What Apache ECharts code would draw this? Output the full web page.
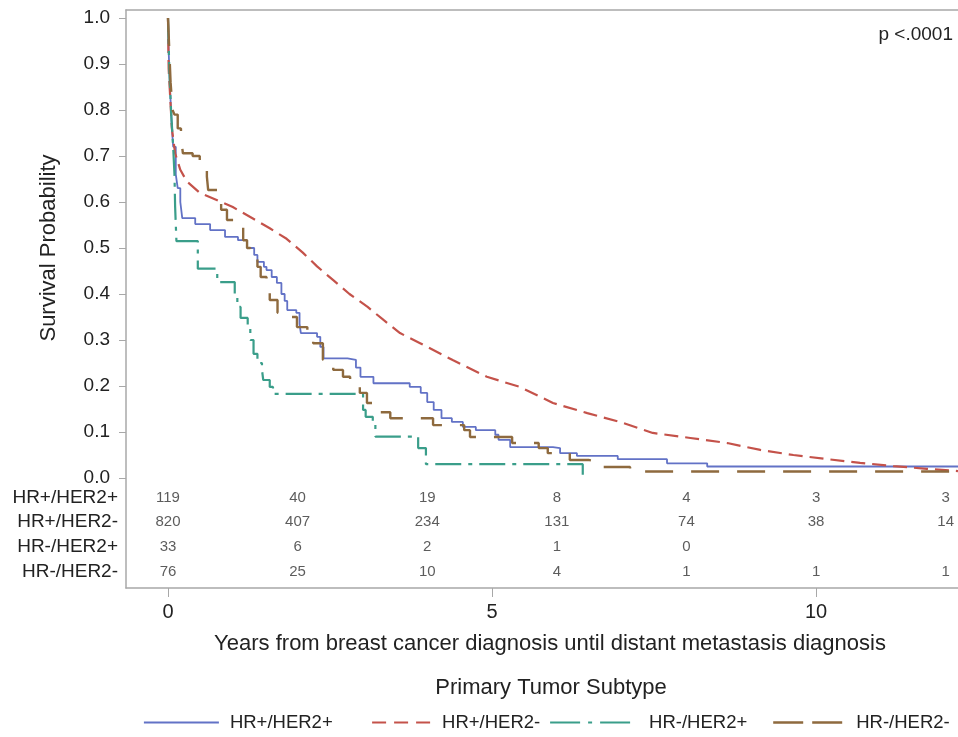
<!DOCTYPE html>
<html lang="en">
<head>
<meta charset="UTF-8">
<title>Survival by primary tumor subtype</title>
<script src="https://cdn.jsdelivr.net/npm/echarts@6/dist/echarts.min.js"></script>
<style>
html, body { margin: 0; padding: 0; background: #fff; }
#chart { width: 958px; height: 737px; }
</style>
</head>
<body>
<div id="chart"></div>
<script>
// subtypes, in legend / at-risk table order
var subtypes = ['HR+/HER2+', 'HR+/HER2-', 'HR-/HER2+', 'HR-/HER2-'];

// KM curves: [years, survival]
var survHRpHER2p = [[0,1.0],[0.01,0.93],[0.03,0.85],[0.06,0.76],[0.08,0.72],[0.12,0.66],[0.15,0.63],[0.19,0.60],[0.22,0.565],
  [0.42,0.552],[0.65,0.539],[0.88,0.524],[1.08,0.517],[1.22,0.50],[1.33,0.485],[1.38,0.47],[1.48,0.459],[1.52,0.452],
  [1.6,0.437],[1.68,0.424],[1.75,0.40],[1.8,0.385],[1.84,0.365],[1.98,0.359],[2.03,0.335],[2.05,0.315],[2.3,0.307],
  [2.35,0.285],[2.4,0.26],[2.77,0.257],[2.9,0.24],[2.97,0.22],[3.17,0.206],[3.73,0.198],[3.9,0.185],[4.0,0.165],
  [4.1,0.148],[4.22,0.13],[4.38,0.122],[4.55,0.111],[4.75,0.104],[5.05,0.094],[5.1,0.083],[5.28,0.067],[5.94,0.065],
  [6.05,0.054],[6.31,0.048],[6.94,0.041],[7.7,0.032],[8.32,0.025],[12.19,0.025]];
var survHRpHER2n = [[0,1.0],[0.01,0.89],[0.06,0.76],[0.11,0.706],[0.19,0.67],[0.29,0.645],[0.49,0.62],[0.76,0.604],
  [1.0,0.589],[1.31,0.564],[1.57,0.543],[1.83,0.52],[2.08,0.49],[2.3,0.46],[2.55,0.43],[2.8,0.40],[3.08,0.372],
  [3.33,0.343],[3.58,0.315],[3.89,0.293],[4.4,0.256],[4.92,0.22],[5.43,0.198],[5.94,0.163],[6.47,0.141],[6.97,0.122],
  [7.48,0.098],[8.06,0.087],[8.63,0.076],[9.14,0.061],[9.65,0.05],[10.17,0.041],[10.68,0.033],[11.19,0.026],
  [11.71,0.02],[12.19,0.015]];
var survHRnHER2p = [[0,1.0],[0.02,0.89],[0.05,0.79],[0.08,0.72],[0.1,0.66],[0.11,0.59],[0.13,0.515],[0.46,0.455],
  [0.76,0.426],[1.03,0.40],[1.07,0.372],[1.12,0.348],[1.23,0.328],[1.27,0.30],[1.32,0.27],[1.38,0.25],[1.45,0.235],
  [1.47,0.213],[1.57,0.198],[1.62,0.183],[3.01,0.148],[3.05,0.133],[3.16,0.12],[3.2,0.09],[3.86,0.065],[3.98,0.03],
  [6.4,0.0]];
var survHRnHER2n = [[0,1.0],[0.02,0.93],[0.04,0.86],[0.07,0.80],[0.1,0.79],[0.15,0.76],[0.2,0.74],[0.23,0.706],
  [0.38,0.70],[0.49,0.685],[0.6,0.655],[0.62,0.626],[0.76,0.611],[0.82,0.583],[0.91,0.561],[1.07,0.546],[1.16,0.517],
  [1.22,0.50],[1.27,0.48],[1.38,0.459],[1.43,0.437],[1.52,0.424],[1.57,0.387],[1.69,0.359],[1.88,0.35],[1.99,0.328],
  [2.15,0.315],[2.24,0.293],[2.39,0.257],[2.55,0.235],[2.7,0.22],[2.81,0.198],[2.96,0.185],[3.07,0.163],[3.16,0.143],
  [3.43,0.13],[4.09,0.115],[4.57,0.104],[4.66,0.089],[5.31,0.076],[5.72,0.065],[5.86,0.054],[6.2,0.039],[6.5,0.035],
  [6.64,0.024],[7.13,0.014],[12.19,0.014]];

// number at risk
var riskTimes = [0, 2, 4, 6, 8, 10, 12];
var riskHRpHER2p = [119, 40, 19, 8, 4, 3, 3];
var riskHRpHER2n = [820, 407, 234, 131, 74, 38, 14];
var riskHRnHER2p = [33, 6, 2, 1, 0];
var riskHRnHER2n = [76, 25, 10, 4, 1, 1, 1];

var xTicks = [0, 5, 10];
var yTicks = [0, 0.1, 0.2, 0.3, 0.4, 0.5, 0.6, 0.7, 0.8, 0.9, 1.0];

var X_MIN = -0.648, X_MAX = 12.19;
var FONT = 'Liberation Sans, Arial, sans-serif';
var AXIS_GREY = '#a8a8a8';

// line look per subtype (colour, dash, legend icon)
var looks = [
  { color: '#6272c6', width: 1.8, type: 'solid', step: 'end', legLeft: 138, legW: 75, legGap: 6, legType: 'solid' },
  { color: '#c4524a', width: 2.2, type: [14, 7], step: false, legLeft: 366, legW: 58, legGap: 7, legType: [14, 8] },
  { color: '#3a9e8a', width: 2.2, type: [26, 7, 4, 7], step: 'end', legLeft: 544, legW: 83, legGap: 11, legType: [30, 8, 4, 8] },
  { color: '#8e6a3e', width: 2.4, type: [28, 18], step: 'end', legLeft: 767, legW: 69, legGap: 9, legType: [30, 9] }
];

var curves = [survHRpHER2p, survHRpHER2n, survHRnHER2p, survHRnHER2n];
var riskRows = [riskHRpHER2p, riskHRpHER2n, riskHRnHER2p, riskHRnHER2n];

var series = subtypes.map(function (name, i) {
  var lk = looks[i];
  return {
    name: name,
    type: 'line',
    xAxisIndex: 0,
    yAxisIndex: 0,
    step: lk.step,
    symbol: 'none',
    showSymbol: false,
    data: curves[i],
    lineStyle: { color: lk.color, width: lk.width, type: lk.type },
    itemStyle: { color: lk.color },
    z: 3
  };
});

// at-risk table as labelled points in its own grid
var riskData = [];
riskRows.forEach(function (row, i) {
  row.forEach(function (n, j) {
    riskData.push([riskTimes[j], subtypes[i], n]);
  });
});
series.push({
  name: 'atrisk',
  type: 'scatter',
  xAxisIndex: 3,
  yAxisIndex: 2,
  symbolSize: 1,
  itemStyle: { color: 'rgba(0,0,0,0)' },
  label: {
    show: true,
    position: 'inside',
    formatter: function (p) { return p.value[2]; },
    fontFamily: FONT,
    fontSize: 15,
    color: '#333'
  },
  data: riskData
});

// one legend per subtype so each icon can have its own length
var legends = subtypes.map(function (name, i) {
  var lk = looks[i];
  return {
    data: [name],
    left: lk.legLeft,
    top: 708,
    itemWidth: lk.legW,
    itemHeight: 14,
    selectedMode: false,
    itemStyle: { color: 'rgba(0,0,0,0)', borderWidth: 0, opacity: 0 },
    lineStyle: { color: lk.color, width: lk.width, type: lk.legType },
    textStyle: { fontFamily: FONT, fontSize: 18.5, color: '#222', padding: [0, 0, 0, lk.legGap] }
  };
});

var myChart = echarts.init(document.getElementById('chart'));
var option = {
  animation: false,
  backgroundColor: '#fff',
  textStyle: { fontFamily: FONT },
  title: [
    { text: 'p <.0001', right: 0, top: 20, textStyle: { fontFamily: FONT, fontSize: 19, fontWeight: 'normal', color: '#222' } },
    { text: 'Primary Tumor Subtype', left: 546, textAlign: 'center', top: 672,
      textStyle: { fontFamily: FONT, fontSize: 22, fontWeight: 'normal', color: '#222' } }
  ],
  legend: legends,
  grid: [
    { left: 126, right: 0, top: 18, height: 460 },
    { left: 126, right: 0, top: 10, height: 578 },
    { left: 126, right: 0, top: 485, height: 99 }
  ],
  xAxis: [
    { gridIndex: 0, type: 'value', min: X_MIN, max: X_MAX, show: false },
    {
      gridIndex: 1, type: 'value', min: X_MIN, max: X_MAX, position: 'bottom',
      axisLine: { show: true, onZero: false, lineStyle: { color: AXIS_GREY, width: 1.5 } },
      axisTick: { show: true, length: 9, customValues: xTicks, lineStyle: { color: AXIS_GREY } },
      axisLabel: { customValues: xTicks, fontSize: 20, color: '#222', margin: 14 },
      splitLine: { show: false },
      name: 'Years from breast cancer diagnosis until distant metastasis diagnosis',
      nameLocation: 'middle',
      nameGap: 45,
      nameTextStyle: { fontSize: 22, color: '#222', padding: [0, 0, 0, 16] }
    },
    {
      gridIndex: 1, type: 'value', min: X_MIN, max: X_MAX, position: 'top',
      axisLine: { show: true, onZero: false, lineStyle: { color: AXIS_GREY, width: 1.5 } },
      axisTick: { show: false }, axisLabel: { show: false }, splitLine: { show: false }
    },
    { gridIndex: 2, type: 'value', min: X_MIN, max: X_MAX, show: false }
  ],
  yAxis: [
    {
      gridIndex: 0, type: 'value', min: 0, max: 1,
      axisLine: { show: false, onZero: false },
      axisTick: { show: true, length: 7, customValues: yTicks, lineStyle: { color: AXIS_GREY } },
      axisLabel: { customValues: yTicks, fontSize: 19, color: '#222', margin: 16,
        formatter: function (v) { return v.toFixed(1); } },
      splitLine: { show: false },
      name: 'Survival Probability',
      nameLocation: 'middle',
      nameGap: 66,
      nameTextStyle: { fontSize: 22, color: '#222' }
    },
    {
      gridIndex: 1, type: 'value', min: 0, max: 1,
      axisLine: { show: true, onZero: false, lineStyle: { color: AXIS_GREY, width: 1.5 } },
      axisTick: { show: false }, axisLabel: { show: false }, splitLine: { show: false }
    },
    {
      gridIndex: 2, type: 'category', data: subtypes, inverse: true,
      axisLine: { show: false, onZero: false }, axisTick: { show: false },
      axisLabel: { fontSize: 19, color: '#222', margin: 8 },
      splitLine: { show: false }
    }
  ],
  series: series
};
myChart.setOption(option);
</script>
</body>
</html>
